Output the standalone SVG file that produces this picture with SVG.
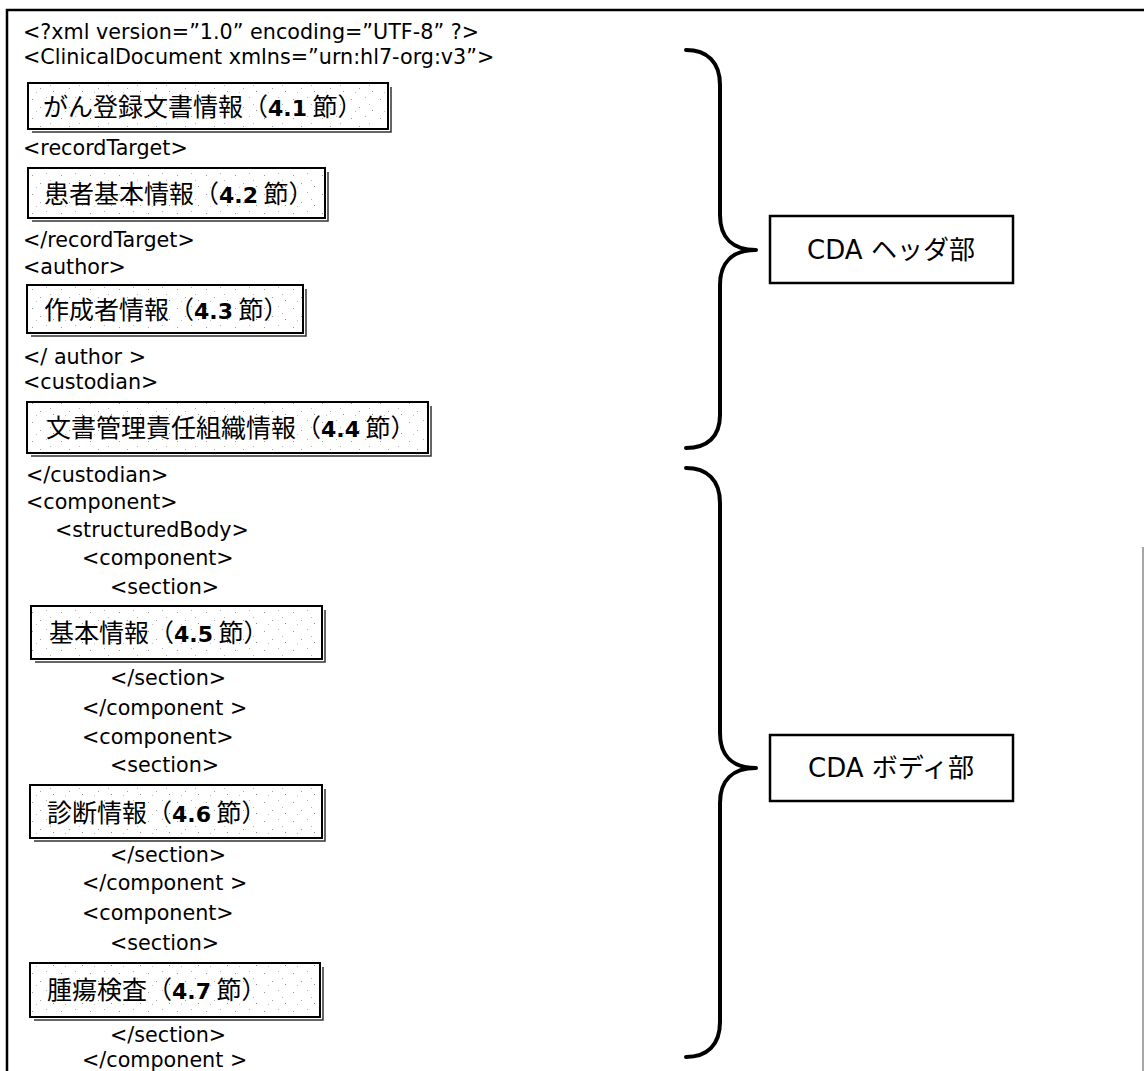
<svg xmlns="http://www.w3.org/2000/svg" width="1144" height="1071" viewBox="0 0 1144 1071">
<defs>
<pattern id="noise" width="29" height="19" patternUnits="userSpaceOnUse">
<rect width="29" height="19" fill="#ffffff"/>
<rect x="3" y="4" width="1" height="1" fill="#9a9a9a"/>
<rect x="17" y="2" width="1" height="1" fill="#b0b0b0"/>
<rect x="11" y="12" width="1" height="1" fill="#a0a0a0"/>
<rect x="24" y="15" width="1" height="1" fill="#8c8c8c"/>
<rect x="7" y="16" width="1" height="1" fill="#c0c0c0"/>
<rect x="21" y="9" width="1" height="1" fill="#b5b5b5"/>
</pattern>
</defs>
<style>
.code{font-family:"DejaVu Sans","Noto Sans",sans-serif;font-size:20.7px;fill:#000}
.jp{font-family:"Noto Sans CJK JP",sans-serif;font-size:25px;fill:#000}
.num{font-family:"DejaVu Sans",sans-serif;font-size:22px;font-weight:bold}
.box{fill:url(#noise);stroke:#000;stroke-width:2}
.shadow{fill:none;stroke:#333;stroke-width:1.5}
.brace{fill:none;stroke:#000;stroke-width:4;stroke-linecap:round;stroke-linejoin:round}
.label{fill:#fff;stroke:#000;stroke-width:2.5}
.lbl{font-family:"DejaVu Sans","Noto Sans CJK JP",sans-serif;font-size:26px;fill:#000}
.frame{fill:none;stroke:#000;stroke-width:2.5}
</style>
<rect width="1144" height="1071" fill="#fff"/>
<g id="frame">
<path class="frame" d="M7,1071 V10 H1144"/>
<path d="M1143,547 V1071" stroke="#888" stroke-width="1.5" fill="none"/>
</g>
<g id="code-lines">
<text class="code" x="23" y="39">&lt;?xml version=”1.0” encoding=”UTF-8” ?&gt;</text>
<text class="code" x="23" y="64">&lt;ClinicalDocument xmlns=”urn:hl7-org:v3”&gt;</text>
<text class="code" x="23" y="155">&lt;recordTarget&gt;</text>
<text class="code" x="23" y="247">&lt;/recordTarget&gt;</text>
<text class="code" x="23" y="274">&lt;author&gt;</text>
<text class="code" x="23" y="364">&lt;/ author &gt;</text>
<text class="code" x="23" y="389">&lt;custodian&gt;</text>
<text class="code" x="26" y="482">&lt;/custodian&gt;</text>
<text class="code" x="26" y="509">&lt;component&gt;</text>
<text class="code" x="55" y="537">&lt;structuredBody&gt;</text>
<text class="code" x="82" y="565">&lt;component&gt;</text>
<text class="code" x="110" y="594">&lt;section&gt;</text>
<text class="code" x="110" y="685">&lt;/section&gt;</text>
<text class="code" x="82" y="715">&lt;/component &gt;</text>
<text class="code" x="82" y="744">&lt;component&gt;</text>
<text class="code" x="110" y="772">&lt;section&gt;</text>
<text class="code" x="110" y="862">&lt;/section&gt;</text>
<text class="code" x="82" y="890">&lt;/component &gt;</text>
<text class="code" x="82" y="920">&lt;component&gt;</text>
<text class="code" x="110" y="950">&lt;section&gt;</text>
<text class="code" x="110" y="1042">&lt;/section&gt;</text>
<text class="code" x="82" y="1067">&lt;/component &gt;</text>
</g>
<g id="box-4-1">
<rect class="box" x="28" y="83" width="360" height="46"/>
<path class="shadow" d="M32,132 H391 V87"/>
<text class="jp" x="43" y="116">がん登録文書情報（<tspan class="num">4.1</tspan> 節）</text>
</g>
<g id="box-4-2">
<rect class="box" x="28" y="168" width="297" height="50"/>
<path class="shadow" d="M32,221 H328 V172"/>
<text class="jp" x="44" y="203">患者基本情報（<tspan class="num">4.2</tspan> 節）</text>
</g>
<g id="box-4-3">
<rect class="box" x="27" y="285" width="276" height="48"/>
<path class="shadow" d="M31,336 H306 V289"/>
<text class="jp" x="44" y="319">作成者情報（<tspan class="num">4.3</tspan> 節）</text>
</g>
<g id="box-4-4">
<rect class="box" x="27" y="402" width="401" height="51"/>
<path class="shadow" d="M31,456 H431 V406"/>
<text class="jp" x="46" y="437">文書管理責任組織情報（<tspan class="num">4.4</tspan> 節）</text>
</g>
<g id="box-4-5">
<rect class="box" x="31" y="606" width="291" height="53"/>
<path class="shadow" d="M35,662 H325 V610"/>
<text class="jp" x="49" y="642">基本情報（<tspan class="num">4.5</tspan> 節）</text>
</g>
<g id="box-4-6">
<rect class="box" x="30" y="785" width="292" height="53"/>
<path class="shadow" d="M34,841 H325 V789"/>
<text class="jp" x="47" y="822">診断情報（<tspan class="num">4.6</tspan> 節）</text>
</g>
<g id="box-4-7">
<rect class="box" x="30" y="963" width="290" height="54"/>
<path class="shadow" d="M34,1020 H323 V967"/>
<text class="jp" x="47" y="999">腫瘍検査（<tspan class="num">4.7</tspan> 節）</text>
</g>
<g id="connectors">
<path class="brace" d="M686,50 C707,50 720,62 720,85 V215 C720,238 733,250 756,250 C733,250 720,262 720,285 V415 C720,437 707,448 686,448"/>
<path class="brace" d="M686,468 C707,468 720,480 720,503 V733 C720,756 733,768 756,768 C733,768 720,780 720,803 V1022 C720,1045 707,1057 686,1057"/>
</g>
<g id="label-header">
<rect class="label" x="770" y="216" width="243" height="67"/>
<text class="lbl" x="891" y="259" text-anchor="middle">CDA  ヘッダ部</text>
</g>
<g id="label-body">
<rect class="label" x="770" y="735" width="243" height="66"/>
<text class="lbl" x="891" y="777" text-anchor="middle">CDA  ボディ部</text>
</g>
</svg>
